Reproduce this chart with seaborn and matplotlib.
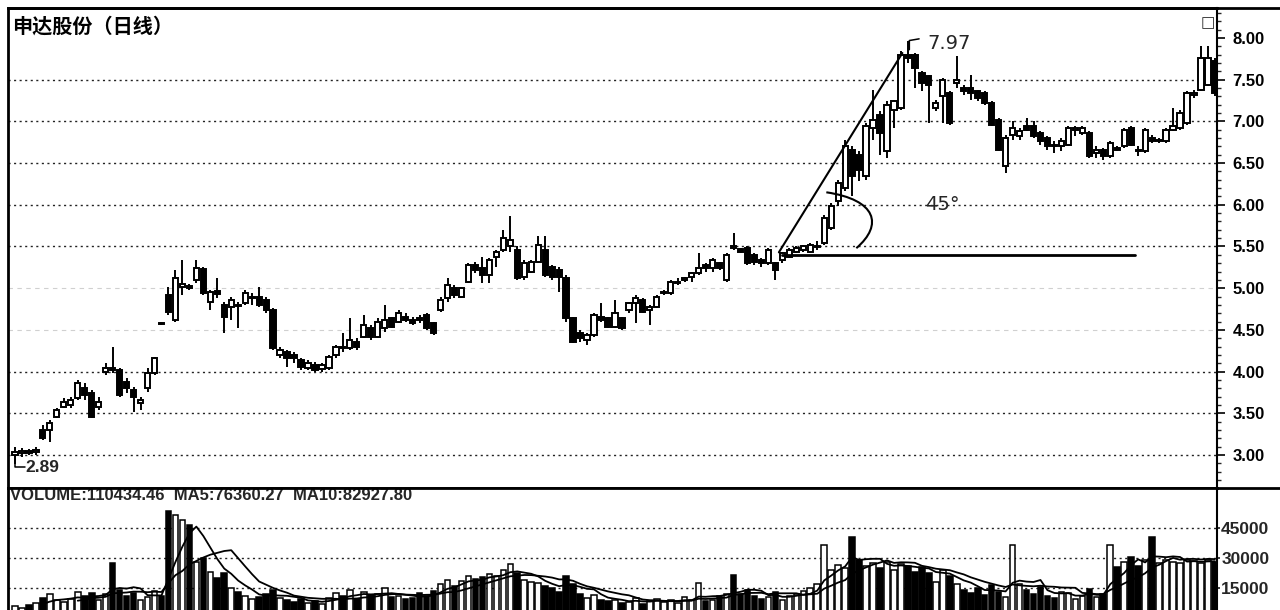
import numpy as np
import pandas as pd
import matplotlib.pyplot as plt
import seaborn as sns
from matplotlib.lines import Line2D
from matplotlib.patches import PathPatch
from matplotlib.path import Path
from matplotlib.ticker import MultipleLocator, FixedLocator

# 日线数据
opens = [3.00, 3.02, 3.04, 3.03, 3.30, 3.30, 3.46, 3.58, 3.60, 3.68,
         3.80, 3.74, 3.58, 4.00, 4.04, 4.02, 3.88, 3.78, 3.62, 3.80,
         3.98, 4.58, 4.92, 4.62, 5.02, 5.02, 5.10, 5.23, 4.84, 4.97,
         4.80, 4.78, 4.80, 4.82, 4.88, 4.90, 4.86, 4.74, 4.20, 4.24,
         4.20, 4.14, 4.04, 4.08, 4.03, 4.04, 4.20, 4.30, 4.28, 4.36,
         4.42, 4.52, 4.42, 4.52, 4.64, 4.60, 4.66, 4.62, 4.64, 4.68,
         4.58, 4.74, 4.88, 5.00, 4.90, 5.08, 5.28, 5.24, 5.16, 5.38,
         5.46, 5.50, 5.46, 5.14, 5.20, 5.32, 5.46, 5.26, 5.22, 5.12,
         4.64, 4.46, 4.38, 4.44, 4.66, 4.64, 4.54, 4.64, 4.74, 4.82,
         4.86, 4.74, 4.78, 4.94, 4.94, 5.06, 5.10, 5.14, 5.18, 5.28,
         5.24, 5.30, 5.10, 5.50, 5.47, 5.48, 5.40, 5.34, 5.30, 5.30,
         5.34, 5.38, 5.44, 5.46, 5.44, 5.50, 5.54, 5.72, 6.04, 6.20,
         6.66, 6.60, 6.34, 6.92, 7.08, 6.64, 7.14, 7.16, 7.80, 7.80,
         7.58, 7.54, 7.16, 7.30, 7.34, 7.46, 7.40, 7.40, 7.36, 7.34,
         7.22, 7.02, 6.46, 6.84, 6.82, 6.94, 6.94, 6.86, 6.80, 6.72,
         6.70, 6.72, 6.90, 6.86, 6.86, 6.62, 6.66, 6.58, 6.68, 6.70,
         6.92, 6.66, 6.64, 6.80, 6.76, 6.76, 6.90, 6.92, 6.98, 7.32,
         7.38, 7.44, 7.72]
closes = [3.03, 3.05, 3.03, 3.06, 3.20, 3.38, 3.54, 3.64, 3.66, 3.86,
          3.72, 3.46, 3.64, 4.04, 4.02, 3.72, 3.80, 3.70, 3.66, 3.98,
          4.16, 4.57, 4.72, 5.12, 5.05, 5.01, 5.24, 4.94, 4.96, 4.93,
          4.65, 4.86, 4.79, 4.94, 4.90, 4.80, 4.74, 4.28, 4.26, 4.16,
          4.16, 4.06, 4.10, 4.02, 4.08, 4.18, 4.30, 4.28, 4.38, 4.30,
          4.56, 4.42, 4.60, 4.62, 4.54, 4.70, 4.62, 4.58, 4.62, 4.52,
          4.46, 4.86, 5.04, 4.92, 5.00, 5.28, 5.22, 5.16, 5.34, 5.44,
          5.60, 5.58, 5.12, 5.30, 5.32, 5.52, 5.16, 5.14, 5.14, 4.64,
          4.36, 4.40, 4.44, 4.68, 4.62, 4.54, 4.70, 4.52, 4.82, 4.88,
          4.72, 4.77, 4.90, 4.96, 5.08, 5.08, 5.12, 5.18, 5.24, 5.24,
          5.34, 5.24, 5.40, 5.49, 5.44, 5.30, 5.32, 5.30, 5.46, 5.22,
          5.42, 5.46, 5.48, 5.50, 5.52, 5.50, 5.84, 5.98, 6.26, 6.70,
          6.34, 6.42, 6.94, 7.02, 6.86, 7.20, 7.24, 7.80, 7.76, 7.64,
          7.46, 7.44, 7.22, 7.50, 6.98, 7.50, 7.36, 7.34, 7.28, 7.22,
          6.96, 6.66, 6.80, 6.92, 6.88, 6.90, 6.82, 6.76, 6.70, 6.70,
          6.76, 6.92, 6.92, 6.92, 6.58, 6.66, 6.58, 6.74, 6.66, 6.90,
          6.72, 6.64, 6.90, 6.76, 6.78, 6.90, 6.94, 7.10, 7.34, 7.34,
          7.76, 7.76, 7.34]
highs = [3.10, 3.08, 3.07, 3.10, 3.36, 3.42, 3.56, 3.68, 3.70, 3.90,
         3.86, 3.78, 3.70, 4.10, 4.30, 4.04, 3.92, 3.82, 3.70, 4.04,
         4.18, 4.59, 5.01, 5.22, 5.34, 5.05, 5.34, 5.26, 4.98, 5.12,
         4.84, 4.90, 4.84, 4.98, 4.94, 5.02, 4.90, 4.76, 4.30, 4.26,
         4.24, 4.16, 4.14, 4.12, 4.10, 4.20, 4.32, 4.46, 4.64, 4.40,
         4.68, 4.56, 4.64, 4.80, 4.66, 4.74, 4.70, 4.66, 4.68, 4.70,
         4.60, 4.90, 5.12, 5.04, 5.02, 5.30, 5.32, 5.38, 5.36, 5.46,
         5.70, 5.86, 5.50, 5.34, 5.34, 5.62, 5.62, 5.28, 5.26, 5.16,
         4.66, 4.50, 4.46, 4.70, 4.82, 4.66, 4.86, 4.66, 4.84, 4.92,
         4.88, 4.80, 4.92, 4.98, 5.10, 5.12, 5.14, 5.20, 5.42, 5.30,
         5.36, 5.32, 5.42, 5.66, 5.48, 5.50, 5.42, 5.36, 5.48, 5.32,
         5.44, 5.48, 5.50, 5.52, 5.54, 5.56, 5.88, 6.02, 6.30, 6.78,
         6.70, 6.64, 6.98, 7.38, 7.12, 7.24, 7.26, 7.84, 7.97, 7.82,
         7.60, 7.56, 7.26, 7.52, 7.36, 7.78, 7.44, 7.56, 7.38, 7.36,
         7.24, 7.04, 6.84, 7.00, 6.92, 7.04, 7.00, 6.88, 6.82, 6.76,
         6.80, 6.94, 6.94, 6.94, 6.88, 6.70, 6.68, 6.76, 6.70, 6.92,
         6.94, 6.70, 6.92, 6.84, 6.80, 6.92, 7.16, 7.14, 7.36, 7.38,
         7.90, 7.90, 7.76]
lows = [2.89, 2.98, 3.00, 3.00, 3.18, 3.16, 3.44, 3.56, 3.56, 3.66,
        3.66, 3.44, 3.54, 3.96, 3.98, 3.70, 3.74, 3.52, 3.54, 3.76,
        3.96, 4.56, 4.68, 4.60, 4.92, 4.98, 5.06, 4.92, 4.74, 4.88,
        4.46, 4.62, 4.52, 4.80, 4.80, 4.78, 4.70, 4.26, 4.16, 4.05,
        4.10, 4.02, 4.02, 4.00, 4.00, 4.02, 4.16, 4.24, 4.26, 4.26,
        4.40, 4.38, 4.40, 4.48, 4.52, 4.58, 4.60, 4.56, 4.58, 4.50,
        4.44, 4.72, 4.84, 4.88, 4.88, 5.06, 5.18, 5.06, 5.06, 5.26,
        5.44, 5.44, 5.10, 5.10, 5.18, 5.30, 5.14, 5.10, 4.96, 4.60,
        4.34, 4.36, 4.32, 4.42, 4.60, 4.52, 4.52, 4.50, 4.70, 4.58,
        4.70, 4.56, 4.76, 4.92, 4.92, 5.04, 5.08, 5.08, 5.16, 5.20,
        5.20, 5.22, 5.08, 5.46, 5.42, 5.28, 5.28, 5.26, 5.28, 5.10,
        5.30, 5.36, 5.42, 5.44, 5.42, 5.46, 5.52, 5.70, 5.98, 6.16,
        6.10, 6.28, 6.30, 6.78, 6.60, 6.56, 6.92, 7.14, 7.70, 7.40,
        7.36, 6.98, 7.12, 6.98, 6.96, 7.40, 7.32, 7.26, 7.24, 7.20,
        6.94, 6.64, 6.38, 6.78, 6.78, 6.88, 6.80, 6.72, 6.66, 6.62,
        6.64, 6.70, 6.82, 6.84, 6.56, 6.56, 6.54, 6.56, 6.64, 6.68,
        6.70, 6.58, 6.62, 6.74, 6.74, 6.74, 6.88, 6.90, 6.96, 7.28,
        7.36, 7.42, 7.30]
volumes = [6000, 5000, 6500, 7500, 10000, 12000, 9000, 8000, 9500, 13000,
           11000, 12500, 9000, 12000, 27500, 14000, 11000, 12500, 9000, 10500,
           13500, 11000, 53500, 51500, 49000, 46500, 28000, 30000, 23000, 20000,
           22500, 15000, 13000, 11000, 9500, 10500, 12000, 14000, 10000, 9000,
           8000, 9500, 7500, 8500, 7000, 10000, 12500, 11000, 14000, 9500,
           13000, 11500, 12000, 15000, 10500, 11000, 9500, 10000, 12500, 11000,
           13500, 17000, 19000, 16000, 18500, 21000, 19500, 20500, 22000, 21000,
           24000, 27000, 22500, 19000, 18000, 17500, 16000, 15000, 13000, 21000,
           17000, 12000, 10000, 11500, 9000, 8500, 9000, 7500, 8000, 10000,
           7000, 8500, 9500, 8000, 9000, 7500, 10500, 9000, 17500, 8500,
           9000, 11000, 12000, 21500, 12000, 14000, 11000, 9500, 10500, 13000,
           9000, 11000, 12000, 13500, 15000, 17000, 36500, 24000, 26500, 25000,
           40500, 29000, 26000, 27500, 25000, 28000, 24000, 27000, 26000, 23000,
           25500, 22500, 18000, 24000, 21000, 17000, 14000, 12500, 15000, 11500,
           16500, 13000, 10500, 36500, 17000, 14000, 12000, 15500, 11000, 10000,
           13000, 12500, 9500, 11000, 14500, 10500, 12000, 36500, 25500, 28000,
           30500, 26000, 29000, 40500, 27500, 29000, 28000, 27500, 29000, 28500,
           27500, 29000, 28000]

price_ticks = [3.0, 3.5, 4.0, 4.5, 5.0, 5.5, 6.0, 6.5, 7.0, 7.5, 8.0]
vol_ticks = [15000, 30000, 45000]
title = "申达股份（日线）"
vol_header = "VOLUME:110434.46  MA5:76360.27  MA10:82927.80"

df = pd.DataFrame({"open": opens, "close": closes, "high": highs,
                   "low": lows, "vol": volumes})
df["i"] = np.arange(len(df))
df["up"] = df["close"] >= df["open"]
df["ma5"] = df["vol"].rolling(5).mean()
df["ma10"] = df["vol"].rolling(10).mean()

sns.set_theme(style="white")
plt.rcParams["font.family"] = ["Noto Sans CJK SC", "DejaVu Sans"]

W, H = 1280, 610
fig = plt.figure(figsize=(12.8, 6.1), dpi=100)
ax = fig.add_axes([8 / W, 1 - 488 / H, (1217 - 8) / W, 480 / H])
axv = fig.add_axes([8 / W, 0, (1217 - 8) / W, 122 / H], sharex=ax)

# K线
face = np.where(df["up"], "white", "black")
ax.vlines(df["i"], df["low"], df["high"], color="black", lw=1.4, zorder=2)
body_lo = np.minimum(df["open"], df["close"])
body_h = np.abs(df["close"] - df["open"])
small = body_h < 0.015
body_lo = np.where(small, (df["open"] + df["close"]) / 2 - 0.008, body_lo)
body_h = np.where(small, 0.016, body_h)
ax.bar(df["i"], body_h, bottom=body_lo, width=0.75, color=face,
       edgecolor="black", linewidth=1.4, zorder=3)

ax.set_xlim(-1.0, 172.3)
ax.set_ylim(2.604, 8.36)

for g in [3.0, 3.5, 4.0, 5.5, 6.0, 6.5, 7.0, 7.5]:
    ax.axhline(g, color="#222222", lw=1.0, ls=(0, (1.5, 2.5)), zorder=0)
for g in [4.5, 5.0]:
    ax.axhline(g, color="#d0d0d0", lw=0.8, ls=(0, (4, 4)), zorder=0)

ax.yaxis.tick_right()
ax.yaxis.set_major_locator(FixedLocator(price_ticks))
ax.yaxis.set_minor_locator(MultipleLocator(0.1))
ax.set_yticklabels([f"{t:.2f}" for t in price_ticks], fontweight="bold",
                   family=["Liberation Sans", "DejaVu Sans"])
ax.tick_params(axis="y", which="major", direction="out", length=6, width=1.2,
               pad=5, labelsize=12, colors="black", right=True)
ax.tick_params(axis="y", which="minor", direction="out", length=3, width=1,
               right=True)
ax.tick_params(axis="x", bottom=False, labelbottom=False)
for side, lw in [("left", 2), ("top", 2), ("right", 1.5), ("bottom", 2)]:
    ax.spines[side].set_visible(True)
    ax.spines[side].set_color("black")
    ax.spines[side].set_linewidth(lw)

ax.text(0.003, 0.962, title, transform=ax.transAxes, fontsize=14.5,
        fontweight="bold", va="center", ha="left", color="black")

# 45度角标注
ax.plot([109.5, 127.2], [5.43, 7.82], color="black", lw=1.5, zorder=4)
ax.plot([110, 160.5], [5.40, 5.40], color="black", lw=2.0, zorder=4)
arc = Path([(116.3, 6.15), (123.5, 6.06), (124.5, 5.76), (120.6, 5.48)],
           [Path.MOVETO, Path.CURVE4, Path.CURVE4, Path.CURVE4])
ax.add_patch(PathPatch(arc, facecolor="none", edgecolor="black", lw=1.5,
                       zorder=4))
ax.text(130.5, 6.0, "45°", fontsize=14, va="center", ha="left",
        family=["DejaVu Sans"])
ax.plot([128.2, 128.2, 129.6], [7.86, 7.97, 7.99], color="black", lw=1.1,
        zorder=4)
ax.text(130.8, 7.93, "7.97", fontsize=14, va="center", ha="left",
        family=["DejaVu Sans"])
ax.plot([0, 0, 1.4], [2.95, 2.86, 2.86], color="black", lw=1.1, zorder=4)
ax.text(1.5, 2.85, "2.89", fontsize=12.5, fontweight="bold", va="center",
        ha="left", family=["Liberation Sans", "DejaVu Sans"])
ax.text(171.0, 8.18, "□", fontsize=11, va="center", ha="center",
        family=["DejaVu Sans"])

# 成交量
axv.bar(df["i"], df["vol"], width=0.8, color=face, edgecolor="black",
        linewidth=1.1, zorder=2)
sns.lineplot(x=df["i"], y=df["ma5"], ax=axv, color="black", lw=1.3, zorder=3)
sns.lineplot(x=df["i"], y=df["ma10"], ax=axv, color="black", lw=1.3, zorder=3)
axv.set_ylim(4000, 65000)
for g in vol_ticks:
    axv.axhline(g, color="#222222", lw=1.0, ls=(0, (1.5, 2.5)), zorder=0)
axv.yaxis.tick_right()
axv.yaxis.set_major_locator(FixedLocator(vol_ticks))
axv.set_yticklabels([str(t) for t in vol_ticks], fontweight="bold",
                    family=["Liberation Sans", "DejaVu Sans"])
axv.tick_params(axis="y", direction="out", length=2, pad=1, labelsize=12.5,
                right=True)
axv.tick_params(axis="x", bottom=False, labelbottom=False)
axv.set_xlabel("")
axv.set_ylabel("")
for side, lw in [("left", 2), ("top", 0), ("right", 1.5), ("bottom", 0)]:
    axv.spines[side].set_visible(lw > 0)
    axv.spines[side].set_color("black")
    axv.spines[side].set_linewidth(lw)
axv.text(0.002, 0.935, vol_header, transform=axv.transAxes, fontsize=12,
         fontweight="bold", va="center", ha="left",
         family=["Liberation Sans Narrow", "Liberation Sans", "DejaVu Sans"])

# 外框横线
fig.add_artist(Line2D([8 / W, 1], [1 - 488 / H] * 2, transform=fig.transFigure,
                      color="black", lw=2))
fig.add_artist(Line2D([8 / W, 1], [1 - 8 / H] * 2, transform=fig.transFigure,
                      color="black", lw=2))

fig.savefig("out.png", dpi=100, facecolor="white")
